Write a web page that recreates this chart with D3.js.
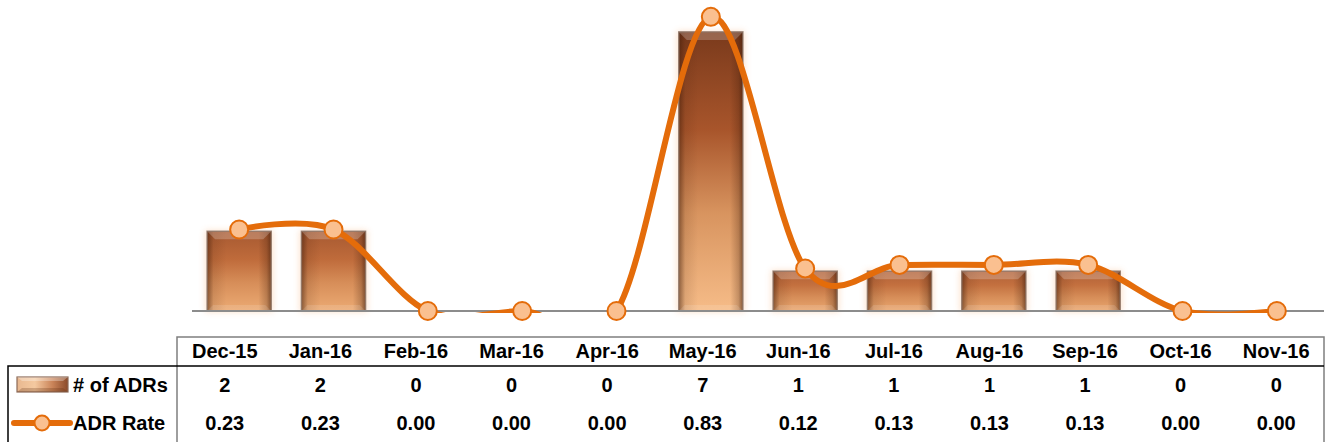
<!DOCTYPE html>
<html>
<head>
<meta charset="utf-8">
<script src="https://cdn.jsdelivr.net/npm/d3@7"></script>
<style>
  html, body { margin: 0; padding: 0; background: #fff; }
  svg { display: block; font-family: "Liberation Sans", Arial, sans-serif; font-weight: bold; }
</style>
</head>
<body>
<div id="chart"></div>
<script>
// ── 데이터 ─────────────────────────────────────────
const months = ["Dec-15", "Jan-16", "Feb-16", "Mar-16", "Apr-16", "May-16",
                "Jun-16", "Jul-16", "Aug-16", "Sep-16", "Oct-16", "Nov-16"];
const adrCounts = [2, 2, 0, 0, 0, 7, 1, 1, 1, 1, 0, 0];
const adrRates = [0.23, 0.23, 0.00, 0.00, 0.00, 0.83, 0.12, 0.13, 0.13, 0.13, 0.00, 0.00];
const seriesNames = ["# of ADRs", "ADR Rate"];

const W = 1325, H = 442;
const plot = { left: 192, right: 1324, top: -8, bottom: 311 };
const table = { left: 177, right: 1324, top: 337, headBottom: 366, outerLeft: 8 };
const ORANGE = "#E46C0A";
const MARKER_FILL = "#FAC090";

const svg = d3.select("#chart").append("svg")
  .attr("width", W).attr("height", H);
const defs = svg.append("defs");

// 스케일
const x = d3.scaleBand().domain(months)
  .range([plot.left, plot.right]).paddingInner(0.32).paddingOuter(0.16);
const yCount = d3.scaleLinear().domain([0, 8]).range([plot.bottom, plot.top]);
const yRate = d3.scaleLinear().domain([0, 0.9]).range([plot.bottom, plot.top]);
const xTable = d3.scaleBand().domain(months).range([table.left, table.right]);

// 플롯 영역 클립 (엑셀처럼 0 아래로 내려간 곡선은 잘림)
defs.append("clipPath").attr("id", "plot-clip")
  .append("rect")
  .attr("x", plot.left).attr("y", plot.top)
  .attr("width", plot.right - plot.left).attr("height", plot.bottom - plot.top + 2);

// 글로우 필터
const glow = defs.append("filter").attr("id", "glow")
  .attr("x", "-30%").attr("y", "-30%").attr("width", "160%").attr("height", "160%");
glow.append("feGaussianBlur").attr("stdDeviation", 3);

// 측면 음영
const side = defs.append("linearGradient").attr("id", "side-shade")
  .attr("x1", 0).attr("x2", 1).attr("y1", 0).attr("y2", 0);
[[0, 0.55], [0.1, 0.12], [0.3, 0], [0.8, 0], [0.93, 0.25], [1, 0.6]].forEach(([o, a]) =>
  side.append("stop").attr("offset", o).attr("stop-color", "#3d1a08").attr("stop-opacity", a));

const hMax = d3.max(adrCounts);
const barData = months.map((m, i) => ({ m, v: adrCounts[i], i })).filter(d => d.v > 0);

// 막대별 그라데이션 (높이에 따라 상단 색 진하게)
barData.forEach(d => {
  const t = d.v / hMax;
  const g = defs.append("linearGradient").attr("id", `bar-grad-${d.i}`)
    .attr("x1", 0).attr("x2", 0).attr("y1", 0).attr("y2", 1);
  g.append("stop").attr("offset", 0).attr("stop-color", d3.interpolateRgb("#B8653A", "#7A3A1C")(t));
  g.append("stop").attr("offset", 0.35).attr("stop-color", d3.interpolateRgb("#C87442", "#A8552B")(t));
  g.append("stop").attr("offset", 0.65).attr("stop-color", d3.interpolateRgb("#D68C57", "#D8945F")(t));
  g.append("stop").attr("offset", 1).attr("stop-color", d3.interpolateRgb("#E8A46C", "#F6BC88")(t));
});

// ── 막대 ──
const bars = svg.append("g").attr("class", "bars")
  .selectAll("g").data(barData).join("g");

bars.append("rect")
  .attr("x", d => x(d.m) - 2).attr("y", d => yCount(d.v) - 1)
  .attr("width", x.bandwidth() + 4).attr("height", d => plot.bottom - yCount(d.v) + 2)
  .attr("fill", "#F7A25E").attr("opacity", 0.3).attr("filter", "url(#glow)");

bars.append("rect")
  .attr("x", d => x(d.m)).attr("y", d => yCount(d.v))
  .attr("width", x.bandwidth()).attr("height", d => plot.bottom - yCount(d.v))
  .attr("fill", d => `url(#bar-grad-${d.i})`);

bars.append("rect")
  .attr("x", d => x(d.m)).attr("y", d => yCount(d.v))
  .attr("width", x.bandwidth()).attr("height", d => plot.bottom - yCount(d.v))
  .attr("fill", "url(#side-shade)");

// 상단 베벨
bars.append("path")
  .attr("d", d => {
    const x0 = x(d.m), x1 = x0 + x.bandwidth(), y0 = yCount(d.v), b = 8;
    return `M${x0},${y0}L${x1},${y0}L${x1 - b},${y0 + b}L${x0 + b},${y0 + b}Z`;
  })
  .attr("fill", "#ffffff").attr("opacity", 0.22);

// 하단 베벨
bars.append("path")
  .attr("d", d => {
    const x0 = x(d.m), x1 = x0 + x.bandwidth(), y1 = plot.bottom, b = 6;
    return `M${x0},${y1}L${x1},${y1}L${x1 - b},${y1 - b}L${x0 + b},${y1 - b}Z`;
  })
  .attr("fill", "#ffffff").attr("opacity", 0.12);

bars.append("rect")
  .attr("x", d => x(d.m)).attr("y", d => yCount(d.v))
  .attr("width", x.bandwidth()).attr("height", d => plot.bottom - yCount(d.v))
  .attr("fill", "none").attr("stroke", "#8C7466").attr("stroke-width", 1.5).attr("stroke-opacity", 0.8);

// 가로축 선
svg.append("line")
  .attr("x1", plot.left).attr("x2", plot.right)
  .attr("y1", plot.bottom).attr("y2", plot.bottom)
  .attr("stroke", "#8C8C8C").attr("stroke-width", 2);

// ── 선 (부드러운 곡선) ──
const cx = m => x(m) + x.bandwidth() / 2;
const line = d3.line()
  .x((d, i) => cx(months[i]))
  .y(d => yRate(d))
  .curve(d3.curveCardinal.tension(0));

svg.append("path").datum(adrRates)
  .attr("d", line)
  .attr("clip-path", "url(#plot-clip)")
  .attr("fill", "none").attr("stroke", ORANGE).attr("stroke-width", 6)
  .attr("stroke-linejoin", "round").attr("stroke-linecap", "round");

svg.append("g").selectAll("circle").data(adrRates).join("circle")
  .attr("cx", (d, i) => cx(months[i])).attr("cy", d => yRate(d))
  .attr("r", 9).attr("fill", MARKER_FILL)
  .attr("stroke", ORANGE).attr("stroke-width", 2);

// ── 데이터 표 ──
const tbl = svg.append("g").attr("class", "table");
tbl.append("path")
  .attr("d", `M${table.left},${H}V${table.top}H${table.right}V${H}`)
  .attr("fill", "none").attr("stroke", "#7F7F7F").attr("stroke-width", 1.5);
tbl.append("path")
  .attr("d", `M${table.outerLeft},${H}V${table.headBottom}H${table.right}`)
  .attr("fill", "none").attr("stroke", "#000").attr("stroke-width", 1.5);

tbl.selectAll("text.head").data(months).join("text")
  .attr("class", "head")
  .attr("x", d => xTable(d) + xTable.bandwidth() / 2).attr("y", 358)
  .attr("text-anchor", "middle").attr("font-size", 20).attr("fill", "#000")
  .text(d => d);

tbl.selectAll("text.cnt").data(adrCounts).join("text")
  .attr("class", "cnt")
  .attr("x", (d, i) => xTable(months[i]) + xTable.bandwidth() / 2).attr("y", 392)
  .attr("text-anchor", "middle").attr("font-size", 20).attr("fill", "#000")
  .text(d => d3.format("d")(d));

tbl.selectAll("text.rate").data(adrRates).join("text")
  .attr("class", "rate")
  .attr("x", (d, i) => xTable(months[i]) + xTable.bandwidth() / 2).attr("y", 430)
  .attr("text-anchor", "middle").attr("font-size", 20).attr("fill", "#000")
  .text(d => d3.format(".2f")(d));

// 범례 키
const keyGrad = defs.append("linearGradient").attr("id", "key-grad")
  .attr("x1", 0).attr("x2", 1).attr("y1", 0).attr("y2", 0);
[[0, "#E8B890"], [0.35, "#F4C9A0"], [0.7, "#C98358"], [1, "#8A4A2A"]].forEach(([o, c]) =>
  keyGrad.append("stop").attr("offset", o).attr("stop-color", c));

tbl.append("rect").attr("x", 17).attr("y", 377).attr("width", 51).attr("height", 15)
  .attr("fill", "url(#key-grad)").attr("stroke", "#8C6A58").attr("stroke-width", 1.2);
tbl.append("path").attr("d", "M17,377L68,377L63,381L22,381Z").attr("fill", "#fff").attr("opacity", 0.3);
tbl.append("path").attr("d", "M17,392L68,392L63,388L22,388Z").attr("fill", "#5a2a10").attr("opacity", 0.25);

tbl.append("line").attr("x1", 14).attr("x2", 70).attr("y1", 423).attr("y2", 423)
  .attr("stroke", ORANGE).attr("stroke-width", 6).attr("stroke-linecap", "round");
tbl.append("circle").attr("cx", 42).attr("cy", 423).attr("r", 7.5)
  .attr("fill", MARKER_FILL).attr("stroke", ORANGE).attr("stroke-width", 2);

tbl.selectAll("text.label").data(seriesNames).join("text")
  .attr("class", "label")
  .attr("x", 73).attr("y", (d, i) => i === 0 ? 392 : 430)
  .attr("font-size", 20).attr("fill", "#000")
  .text(d => d);
</script>
</body>
</html>
